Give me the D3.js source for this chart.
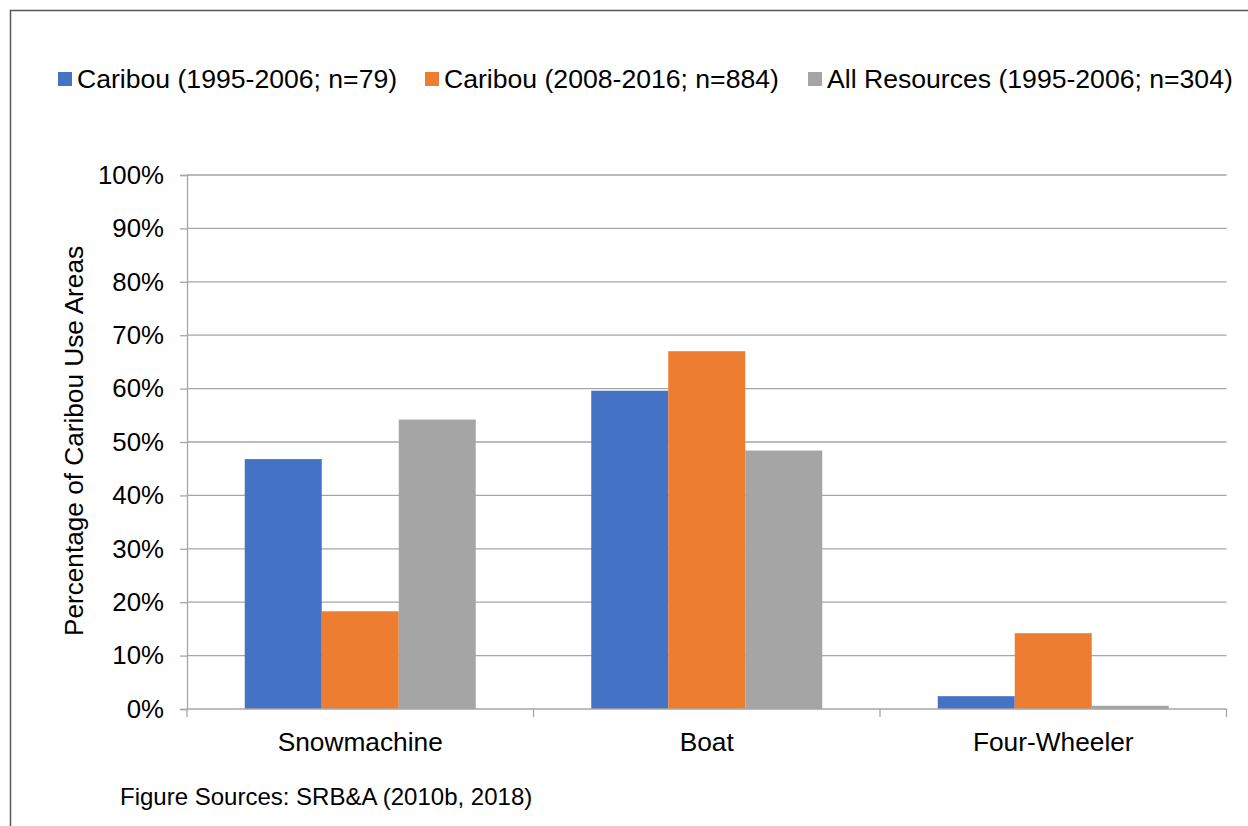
<!DOCTYPE html>
<html>
<head>
<meta charset="utf-8">
<script src="https://cdn.jsdelivr.net/npm/d3@7"></script>
<style>
  html, body { margin: 0; padding: 0; background: #fff; }
  svg { display: block; font-family: "Liberation Sans", Arial, sans-serif; }
</style>
</head>
<body>
<svg id="chart" width="1248" height="826"></svg>
<script>
// Mode of travel used for caribou harvest, by study period
const categories = ["Snowmachine", "Boat", "Four-Wheeler"];
const seriesNames = [
  "Caribou (1995-2006; n=79)",
  "Caribou (2008-2016; n=884)",
  "All Resources (1995-2006; n=304)"
];
const caribou1995 = [46.8, 59.6, 2.4];
const caribou2008 = [18.3, 67.0, 14.2];
const allResources1995 = [54.2, 48.4, 0.6];
const seriesColors = ["#4472C4", "#ED7D31", "#A5A5A5"];
const yTicks = [0, 10, 20, 30, 40, 50, 60, 70, 80, 90, 100];

const seriesValues = [caribou1995, caribou2008, allResources1995];

const svg = d3.select("#chart");
const W = 1248, H = 826;

// Outer frame (top and left edges visible)
svg.append("path")
  .attr("d", `M10.5,${H} L10.5,10.5 L${W},10.5`)
  .attr("fill", "none")
  .attr("stroke", "#595959")
  .attr("stroke-width", 1.5);

const plot = { left: 187, right: 1226.5, top: 175, bottom: 709 };

const y = d3.scaleLinear().domain([0, 100]).range([plot.bottom, plot.top]);
const x0 = d3.scaleBand().domain(categories).range([plot.left, plot.right]).paddingInner(0).paddingOuter(0);
const x1 = d3.scaleBand().domain(d3.range(seriesNames.length)).range([0, x0.bandwidth()]).paddingInner(0).paddingOuter(0.75);

// Horizontal gridlines
svg.append("g")
  .selectAll("line")
  .data(yTicks.filter(d => d > 0))
  .join("line")
  .attr("x1", plot.left)
  .attr("x2", plot.right)
  .attr("y1", d => y(d))
  .attr("y2", d => y(d))
  .attr("stroke", "#a6a6a6")
  .attr("stroke-width", 1.3);

// Bars
const groups = svg.append("g")
  .selectAll("g")
  .data(categories)
  .join("g")
  .attr("transform", d => `translate(${x0(d)},0)`);

groups.selectAll("rect")
  .data((c, ci) => seriesValues.map((vals, si) => ({ si, v: vals[ci] })))
  .join("rect")
  .attr("x", d => x1(d.si))
  .attr("width", x1.bandwidth())
  .attr("y", d => y(d.v))
  .attr("height", d => y(0) - y(d.v))
  .attr("fill", d => seriesColors[d.si]);

// Y axis
const yAxis = d3.axisLeft(y)
  .tickValues(yTicks)
  .tickFormat(d => d + "%")
  .tickSize(7)
  .tickPadding(16);
const yg = svg.append("g")
  .attr("transform", `translate(${plot.left},0)`)
  .call(yAxis);
yg.select(".domain").attr("stroke", "#a6a6a6").attr("stroke-width", 1.3);
yg.selectAll(".tick line").attr("stroke", "#a6a6a6").attr("stroke-width", 1.3);
yg.selectAll(".tick text")
  .attr("font-size", 25.8)
  .attr("fill", "#000")
  .style("font-family", "'Liberation Sans', Arial, sans-serif");

// X axis: ticks at category boundaries
const xg = svg.append("g");
xg.append("line")
  .attr("x1", plot.left).attr("x2", plot.right)
  .attr("y1", plot.bottom).attr("y2", plot.bottom)
  .attr("stroke", "#a6a6a6").attr("stroke-width", 1.3);
const boundaries = categories.map(c => x0(c)).concat([x0(categories[categories.length - 1]) + x0.bandwidth()]);
xg.selectAll("line.tk")
  .data(boundaries)
  .join("line")
  .attr("class", "tk")
  .attr("x1", d => d).attr("x2", d => d)
  .attr("y1", plot.bottom).attr("y2", plot.bottom + 8)
  .attr("stroke", "#a6a6a6").attr("stroke-width", 1.3);
xg.selectAll("text")
  .data(categories)
  .join("text")
  .attr("x", d => x0(d) + x0.bandwidth() / 2)
  .attr("y", 751)
  .attr("text-anchor", "middle")
  .attr("font-size", 26.3)
  .attr("fill", "#000")
  .text(d => d);

// Y axis title
svg.append("text")
  .attr("transform", `translate(83,${(plot.top + plot.bottom) / 2 - 1}) rotate(-90)`)
  .attr("text-anchor", "middle")
  .attr("font-size", 26.2)
  .attr("fill", "#000")
  .text("Percentage of Caribou Use Areas");

// Legend
const legendX = [58, 425, 808];
const legend = svg.append("g")
  .selectAll("g")
  .data(seriesNames)
  .join("g")
  .attr("transform", (d, i) => `translate(${legendX[i]},0)`);
legend.append("rect")
  .attr("x", 0).attr("y", 72)
  .attr("width", 14).attr("height", 14)
  .attr("fill", (d, i) => seriesColors[i]);
legend.append("text")
  .attr("x", 19).attr("y", 88)
  .attr("font-size", 26.6)
  .attr("fill", "#000")
  .text(d => d);

// Source note
svg.append("text")
  .attr("x", 120).attr("y", 805)
  .attr("font-size", 24)
  .attr("fill", "#000")
  .text("Figure Sources: SRB&A (2010b, 2018)");
</script>
</body>
</html>
